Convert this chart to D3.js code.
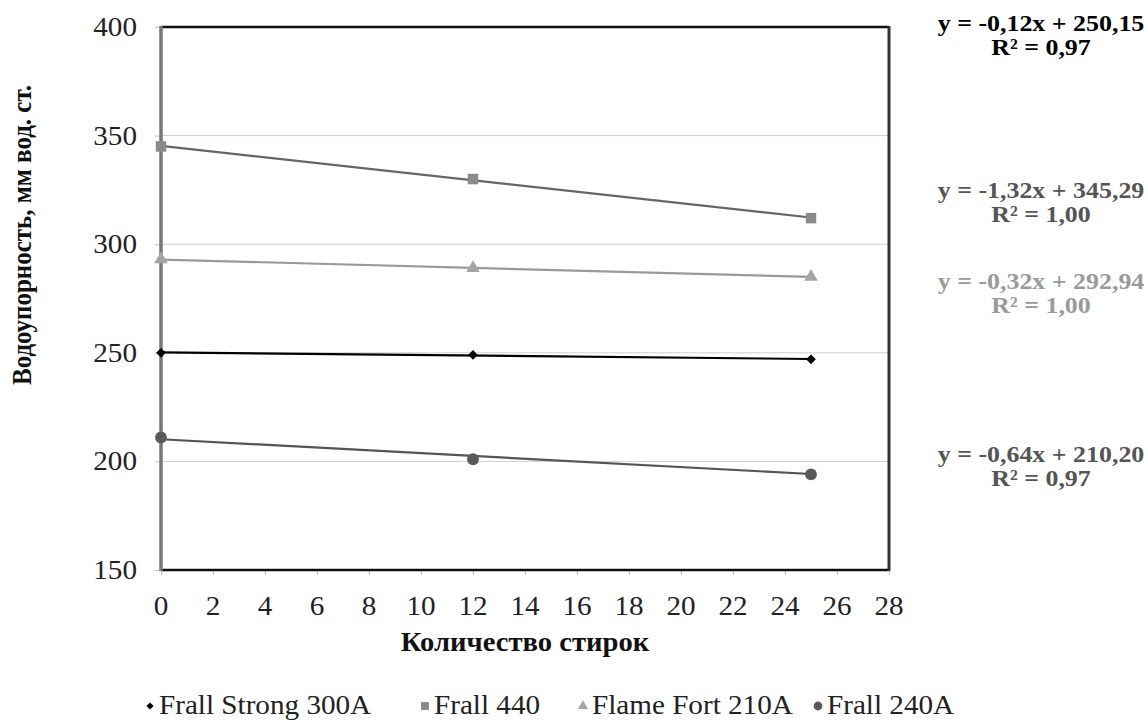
<!DOCTYPE html>
<html>
<head>
<meta charset="utf-8">
<script src="https://cdn.jsdelivr.net/npm/d3@7/dist/d3.min.js"></script>
<style>
	html, body { margin: 0; padding: 0; background: #fff; }
	svg { display: block; font-family: 'Liberation Serif', 'Times New Roman', serif; }
</style>
</head>
<body>
<div id="chart"></div>
<script>
	'use strict';

	// data
	var washes = [0, 12, 25];
	var seriesNames = ['Frall Strong 300A', 'Frall 440', 'Flame Fort 210A', 'Frall 240A'];
	var strong300A = [250, 249, 247];
	var frall440 = [345, 330, 312];
	var flameFort210A = [293, 289, 285];
	var frall240A = [211, 201, 194];
	var trendSlopes = [-0.12, -1.32, -0.32, -0.64];
	var trendIntercepts = [250.15, 345.29, 292.94, 210.20];
	var eqLabels = ['y = -0,12x + 250,15', 'y = -1,32x + 345,29', 'y = -0,32x + 292,94', 'y = -0,64x + 210,20'];
	var r2Labels = ['R\u00b2 = 0,97', 'R\u00b2 = 1,00', 'R\u00b2 = 1,00', 'R\u00b2 = 0,97'];
	var xTicks = [0, 2, 4, 6, 8, 10, 12, 14, 16, 18, 20, 22, 24, 26, 28];
	var yTicks = [150, 200, 250, 300, 350, 400];
	var xTitle = 'Количество стирок';
	var yTitle = 'Водоупорность, мм вод. ст.';

	var seriesValues = [strong300A, frall440, flameFort210A, frall240A];

	// look of each series
	var styles = [
		{line: '#000', marker: '#000', shape: d3.symbolDiamond2, size: 60, label: '#000'},
		{line: '#666', marker: '#8a8a8a', shape: d3.symbolSquare, size: 110, label: '#555'},
		{line: '#9a9a9a', marker: '#a5a5a5', shape: d3.symbolTriangle, size: 80, label: '#9a9a9a'},
		{line: '#555', marker: '#5a5a5a', shape: d3.symbolCircle, size: 110, label: '#555'}
	];
	var eqPos = [{x: 1041, y: 31}, {x: 1041, y: 198}, {x: 1041, y: 289}, {x: 1041, y: 462}];
	var legendPos = [150, 425, 583, 818];

	var stretch = 1.08;
	var width = 1148, height = 722;
	var margin = {top: 27, right: 259, bottom: 152, left: 161};

	var svg = d3.select('#chart')
		.append('svg')
		.attr('width', width)
		.attr('height', height);

	var x = d3.scaleLinear()
		.domain([0, 28])
		.range([margin.left, width - margin.right]);
	var y = d3.scaleLinear()
		.domain([150, 400])
		.range([height - margin.bottom, margin.top]);

	function stretchedText(parent, px, py, str, anchor) {
		return parent.append('text')
			.attr('transform', 'translate(' + px + ',' + py + ') scale(' + stretch + ',1)')
			.attr('text-anchor', anchor || 'start')
			.text(str);
	}

	// gridlines
	svg.append('g')
		.selectAll('line')
		.data(yTicks.slice(1, -1))
		.enter().append('line')
		.attr('x1', x(0)).attr('x2', x(28))
		.attr('y1', function (d) { return y(d); })
		.attr('y2', function (d) { return y(d); })
		.attr('stroke', '#cfcfcf')
		.attr('stroke-width', 1);

	// axes
	var xAxis = svg.append('g')
		.attr('transform', 'translate(0,' + y(150) + ')')
		.call(d3.axisBottom(x).tickValues(xTicks).tickSize(5).tickFormat(''));
	xAxis.select('.domain').remove();
	xAxis.selectAll('line').attr('stroke', '#c4c4c4');

	var yAxis = svg.append('g')
		.attr('transform', 'translate(' + x(0) + ',0)')
		.call(d3.axisLeft(y).tickValues(yTicks).tickSize(6).tickFormat(''));
	yAxis.select('.domain').remove();
	yAxis.selectAll('line').attr('stroke', '#c4c4c4');

	var tickLabels = svg.append('g')
		.attr('font-size', 27)
		.attr('fill', '#222');
	xTicks.forEach(function (t) {
		stretchedText(tickLabels, x(t), y(150) + 45, t, 'middle');
	});
	yTicks.forEach(function (t) {
		stretchedText(tickLabels, x(0) - 24, y(t) + 9, t, 'end');
	});

	// frame
	svg.append('line')
		.attr('x1', x(0)).attr('x2', x(28))
		.attr('y1', y(400)).attr('y2', y(400))
		.attr('stroke', '#111').attr('stroke-width', 2.5);
	svg.append('line')
		.attr('x1', x(0)).attr('x2', x(28))
		.attr('y1', y(150)).attr('y2', y(150))
		.attr('stroke', '#111').attr('stroke-width', 2.5);
	svg.append('line')
		.attr('x1', x(28)).attr('x2', x(28))
		.attr('y1', y(400) - 1).attr('y2', y(150) + 1)
		.attr('stroke', '#333').attr('stroke-width', 3);
	svg.append('line')
		.attr('x1', x(0)).attr('x2', x(0))
		.attr('y1', y(400) - 1).attr('y2', y(150) + 1)
		.attr('stroke', '#777').attr('stroke-width', 3.5);

	// trend lines and markers
	seriesValues.forEach(function (vals, i) {
		var st = styles[i];
		var xEnd = washes[washes.length - 1];
		svg.append('line')
			.attr('x1', x(washes[0]))
			.attr('y1', y(trendIntercepts[i] + trendSlopes[i] * washes[0]))
			.attr('x2', x(xEnd))
			.attr('y2', y(trendIntercepts[i] + trendSlopes[i] * xEnd))
			.attr('stroke', st.line)
			.attr('stroke-width', 2.2);
		svg.append('g')
			.selectAll('path')
			.data(vals)
			.enter().append('path')
			.attr('d', d3.symbol().type(st.shape).size(st.size))
			.attr('transform', function (d, j) {
				return 'translate(' + x(washes[j]) + ',' + y(d) + ')';
			})
			.attr('fill', st.marker);
	});

	// trend equations
	var eqGroup = svg.append('g')
		.attr('font-size', 24)
		.attr('font-weight', 'bold');
	eqLabels.forEach(function (lbl, i) {
		var p = eqPos[i];
		stretchedText(eqGroup, p.x, p.y, lbl, 'middle').attr('fill', styles[i].label);
		stretchedText(eqGroup, p.x, p.y + 24, r2Labels[i], 'middle').attr('fill', styles[i].label);
	});

	// axis titles
	stretchedText(svg, x(14), 651, xTitle, 'middle')
		.attr('font-size', 26.5)
		.attr('font-weight', 'bold')
		.attr('fill', '#111');
	svg.append('text')
		.attr('transform', 'translate(31,235) scale(' + stretch + ',1) rotate(-90)')
		.attr('text-anchor', 'middle')
		.attr('font-size', 25)
		.attr('font-weight', 'bold')
		.attr('fill', '#111')
		.text(yTitle);

	// legend
	var legend = svg.append('g')
		.attr('font-size', 27)
		.attr('fill', '#222');
	seriesNames.forEach(function (name, i) {
		var st = styles[i];
		legend.append('path')
			.attr('d', d3.symbol().type(st.shape).size(st.size * 0.55))
			.attr('transform', 'translate(' + legendPos[i] + ',706)')
			.attr('fill', st.marker);
		stretchedText(legend, legendPos[i] + 9, 714, name, 'start');
	});
</script>
</body>
</html>
